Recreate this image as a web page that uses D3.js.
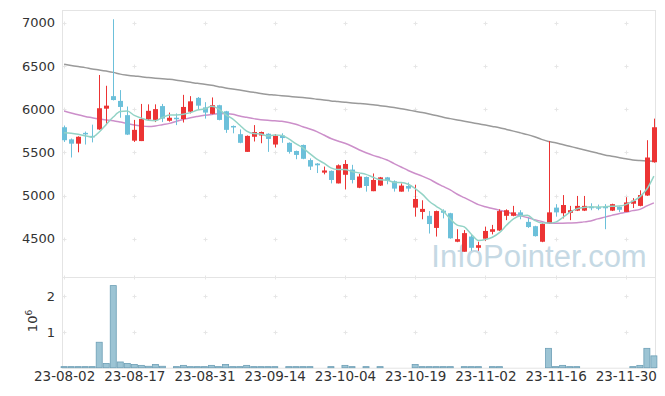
<!DOCTYPE html>
<html>
<head>
<meta charset="utf-8">
<script src="https://cdn.jsdelivr.net/npm/d3@7"></script>
<style>
  body { margin: 0; background: #fff; }
  svg { display: block; font-family: "DejaVu Sans", sans-serif; }
</style>
</head>
<body>
<div id="chart"></div>
<script>
// trading days shown on the chart
var dates = ["23-08-02","23-08-03","23-08-04","23-08-07","23-08-08","23-08-09","23-08-10","23-08-11","23-08-14","23-08-16",
  "23-08-17","23-08-18","23-08-21","23-08-22","23-08-23","23-08-24","23-08-25","23-08-28","23-08-29","23-08-30",
  "23-08-31","23-09-01","23-09-04","23-09-05","23-09-06","23-09-07","23-09-08","23-09-11","23-09-12","23-09-13",
  "23-09-14","23-09-15","23-09-18","23-09-19","23-09-20","23-09-21","23-09-22","23-09-25","23-09-26","23-09-27",
  "23-10-04","23-10-05","23-10-06","23-10-10","23-10-11","23-10-12","23-10-13","23-10-16","23-10-17","23-10-18",
  "23-10-19","23-10-20","23-10-23","23-10-24","23-10-25","23-10-26","23-10-27","23-10-30","23-10-31","23-11-01",
  "23-11-02","23-11-03","23-11-06","23-11-07","23-11-08","23-11-09","23-11-10","23-11-13","23-11-14","23-11-15",
  "23-11-16","23-11-17","23-11-20","23-11-21","23-11-22","23-11-23","23-11-24","23-11-27","23-11-28","23-11-29",
  "23-11-30","23-12-01","23-12-04","23-12-05","23-12-06"];

var open = [5790,5650,5600,5725,5690,5765,6005,6150,6095,5930,
  5635,5630,5880,5875,6035,5865,5900,5885,5970,6130,
  6020,5945,6045,5975,5805,5710,5505,5680,5695,5715,
  5590,5695,5610,5515,5585,5410,5370,5265,5285,5140,
  5240,5300,5090,5215,5050,5115,5210,5165,5045,5110,
  4860,4810,4765,4625,4825,4795,4465,4350,4525,4395,
  4500,4580,4595,4765,4765,4805,4695,4645,4465,4680,
  4860,4795,4800,4825,4825,4870,4865,4870,4825,4870,
  4810,4905,4880,5000,5385];
var high = [5810,5660,5685,5740,5820,6395,6270,7040,6220,6030,
  5875,6060,6055,6055,6060,5960,5950,6165,6150,6140,
  6080,6135,6050,5980,5810,5765,5695,5815,5740,5720,
  5710,5720,5615,5520,5590,5430,5375,5335,5290,5360,
  5410,5355,5250,5220,5255,5215,5215,5175,5140,5150,
  5125,4945,4820,4825,4840,4800,4610,4600,4550,4465,
  4640,4660,4840,4840,4880,4830,4740,4650,4680,5630,
  4900,5005,4880,4995,4995,4910,4895,4900,4905,4875,
  4980,4970,5060,5640,5890];
var low = [5620,5440,5500,5590,5615,5760,5815,6100,5900,5700,
  5620,5630,5870,5850,5850,5855,5815,5845,5950,5990,
  5890,5940,5870,5725,5720,5605,5505,5625,5605,5505,
  5555,5610,5485,5420,5420,5295,5260,5245,5140,5140,
  5070,5140,5085,5045,5050,5110,5130,5045,5045,5045,
  4755,4725,4560,4525,4735,4500,4460,4350,4360,4360,
  4475,4550,4590,4715,4760,4725,4625,4525,4460,4675,
  4755,4735,4715,4820,4820,4830,4830,4610,4820,4810,
  4810,4855,4875,4995,5380];
var close = [5640,5600,5680,5710,5675,6010,6040,6105,6025,5705,
  5760,5885,5980,6000,5890,5900,5890,6025,6090,6040,
  5960,6045,5875,5760,5790,5610,5690,5735,5735,5655,
  5690,5665,5505,5470,5425,5335,5350,5290,5180,5350,
  5365,5180,5220,5110,5180,5210,5170,5080,5115,5080,
  4960,4845,4670,4820,4800,4505,4495,4565,4395,4425,
  4590,4610,4820,4830,4805,4770,4635,4530,4670,4805,
  4805,4890,4830,4880,4880,4860,4855,4860,4900,4835,
  4920,4940,5005,5440,5790];

// volume, shares
var volume = [30000,30000,30000,30000,30000,710000,120000,2290000,160000,120000,
  90000,65000,40000,90000,40000,0,30000,65000,30000,30000,
  30000,65000,30000,90000,30000,30000,65000,30000,30000,30000,
  30000,0,30000,30000,30000,30000,0,0,30000,0,
  65000,30000,0,30000,0,30000,0,0,0,0,
  90000,30000,30000,30000,30000,30000,0,30000,30000,30000,
  0,30000,30000,0,0,0,0,0,0,540000,
  30000,65000,30000,30000,0,0,0,0,0,0,
  0,30000,65000,540000,330000];

// moving averages as drawn
var ma5 = [5727,5720,5708,5692,5675,5735,5823,5908,5971,5977,
  5927,5896,5871,5866,5903,5931,5932,5941,5959,5989,
  6001,6032,6002,5936,5886,5816,5745,5717,5712,5690,
  5701,5696,5655,5600,5551,5485,5420,5374,5320,5301,
  5300,5278,5262,5245,5211,5182,5178,5152,5150,5131,
  5081,5016,4934,4875,4819,4728,4658,4637,4552,4480,
  4490,4517,4570,4655,4731,4767,4772,4714,4682,4682,
  4692,4745,4805,4845,4860,4870,4866,4870,4875,4878,
  4895,4935,4985,5075,5225];
var ma20 = [5978,5955,5935,5915,5900,5885,5875,5866,5850,5832,
  5816,5805,5798,5805,5820,5835,5860,5880,5900,5915,
  5928,5938,5945,5950,5940,5920,5905,5890,5878,5870,
  5865,5860,5845,5825,5796,5770,5740,5700,5660,5630,
  5604,5570,5530,5495,5465,5440,5411,5370,5330,5290,
  5255,5225,5190,5145,5105,5065,5015,4975,4935,4895,
  4870,4850,4830,4810,4785,4765,4745,4720,4700,4680,
  4678,4680,4682,4685,4695,4705,4730,4750,4770,4790,
  4805,4825,4840,4880,4915];
var maLong = [6520,6505,6492,6480,6465,6453,6440,6425,6405,6393,
  6383,6375,6365,6357,6350,6345,6335,6322,6310,6298,
  6288,6275,6260,6245,6232,6220,6208,6195,6180,6170,
  6163,6155,6148,6140,6133,6125,6115,6105,6095,6088,
  6080,6072,6065,6058,6050,6040,6030,6018,6005,5990,
  5975,5960,5943,5925,5905,5890,5875,5860,5845,5830,
  5815,5800,5785,5765,5745,5725,5705,5680,5650,5625,
  5610,5590,5570,5550,5530,5510,5490,5470,5455,5440,
  5425,5412,5405,5400,5398];

var priceTicks = [4500,5000,5500,6000,6500,7000];
var volTicks = [1000000,2000000];
var xTickIdx = [0,10,20,30,40,50,60,70,80];

var W = 665, H = 396;
var left = 62, right = 656,
    pTop = 10, pBottom = 277,
    vTop = 277, vBottom = 367.7;

var svg = d3.select("#chart").append("svg")
    .attr("width", W)
    .attr("height", H);

var idx = d3.range(dates.length);

var x = d3.scaleLinear().domain([-0.3, dates.length - 0.7]).range([left, right]);
var y = d3.scaleLinear().domain([4057, 7147]).range([pBottom, pTop]);
var yv = d3.scaleLinear().domain([0, 2530000]).range([vBottom, vTop]);

var band = x(1) - x(0);

// panel frames
function frame(y0, y1) {
    svg.append("rect")
        .attr("x", left + 0.5).attr("y", y0 + 0.5)
        .attr("width", right - left - 1).attr("height", y1 - y0)
        .attr("fill", "none")
        .attr("stroke", "#e4e4e4");
}
frame(pTop, pBottom);
frame(vTop, vBottom);

// grid crosses
function crosses(vals, sy, extra) {
    var pts = [];
    xTickIdx.forEach(function(i) {
        vals.forEach(function(v) { pts.push([Math.round(x(i)) + 0.5, Math.round(sy(v)) + 0.5]); });
        if (extra != null) pts.push([Math.round(x(i)) + 0.5, extra]);
    });
    svg.append("g").selectAll("path")
        .data(pts)
        .join("path")
        .attr("d", function(d) {
            return "M" + (d[0] - 2) + "," + d[1] + "h4M" + d[0] + "," + (d[1] - 2) + "v4";
        })
        .attr("stroke", "#e6e6e6")
        .attr("stroke-width", 1);
}
crosses(priceTicks, y, pBottom + 0.5);
crosses(volTicks, yv, null);

function styleText(sel) {
    sel.attr("font-size", 13)
        .attr("font-family", "DejaVu Sans, sans-serif")
        .attr("fill", "#333");
}

// axes labels
var yAxis = d3.axisLeft(y).tickValues(priceTicks).tickSize(0).tickPadding(7)
    .tickFormat(d3.format("d"));
svg.append("g")
    .attr("transform", "translate(" + left + ",0)")
    .call(yAxis)
    .call(function(g) { g.select(".domain").remove(); })
    .selectAll("text")
    .call(styleText);

var vAxis = d3.axisLeft(yv).tickValues(volTicks).tickSize(0).tickPadding(7)
    .tickFormat(function(d) { return d / 1e6; });
svg.append("g")
    .attr("transform", "translate(" + left + ",0)")
    .call(vAxis)
    .call(function(g) { g.select(".domain").remove(); })
    .selectAll("text")
    .call(styleText);

var unit = svg.append("text")
    .attr("transform", "translate(37,321) rotate(-90)")
    .attr("text-anchor", "middle")
    .call(styleText);
unit.append("tspan").text("10");
unit.append("tspan").attr("dy", -5).attr("font-size", 9).text("6");

var xAxis = d3.axisBottom(x).tickValues(xTickIdx).tickSize(0).tickPadding(4)
    .tickFormat(function(i) { return dates[i]; });
svg.append("g")
    .attr("transform", "translate(0," + vBottom + ")")
    .call(xAxis)
    .call(function(g) { g.select(".domain").remove(); })
    .selectAll("text")
    .call(styleText)
    .attr("font-size", 13.5);

// watermark
svg.append("text")
    .attr("x", 539).attr("y", 267)
    .attr("text-anchor", "middle")
    .attr("font-family", "Liberation Sans, Arial, sans-serif")
    .attr("font-size", 31)
    .attr("fill", "#c5d9e4")
    .text("InfoPointer.com");

// moving average lines
function addLine(vals, color, width) {
    var line = d3.line()
        .x(function(i) { return x(i); })
        .y(function(i) { return y(vals[i]); })
        .curve(d3.curveMonotoneX);
    svg.append("path")
        .datum(idx)
        .attr("d", line)
        .attr("fill", "none")
        .attr("stroke", color)
        .attr("stroke-width", width);
}
addLine(maLong, "#9a9a9a", 1.5);
addLine(ma20, "#cc8fca", 1.5);

// candles
var upColor = "#ec3434", downColor = "#6cc0da";
var candles = svg.append("g").selectAll("g")
    .data(idx)
    .join("g");

candles.append("line")
    .attr("x1", function(i) { return Math.round(x(i)) + 0.5; })
    .attr("x2", function(i) { return Math.round(x(i)) + 0.5; })
    .attr("y1", function(i) { return y(high[i]); })
    .attr("y2", function(i) { return y(low[i]); })
    .attr("stroke", function(i) { return close[i] >= open[i] ? upColor : downColor; })
    .attr("stroke-width", 1);

candles.append("rect")
    .attr("x", function(i) { return Math.round(x(i)) - 2; })
    .attr("width", 5)
    .attr("y", function(i) { return y(Math.max(open[i], close[i])); })
    .attr("height", function(i) { return Math.max(1.5, Math.abs(y(open[i]) - y(close[i]))); })
    .attr("fill", function(i) { return close[i] >= open[i] ? upColor : downColor; });

addLine(ma5, "#93d3c6", 1.5);

// volume bars
svg.append("g").selectAll("rect")
    .data(idx.filter(function(i) { return volume[i] > 0; }))
    .join("rect")
    .attr("x", function(i) { return x(i) - band / 2 + 0.5; })
    .attr("width", band - 1)
    .attr("y", function(i) { return yv(volume[i]); })
    .attr("height", function(i) { return Math.max(0.5, yv(0) - yv(volume[i])); })
    .attr("fill", "#9cc4d4")
    .attr("stroke", "#6d9fb6")
    .attr("stroke-width", 0.8);
</script>
</body>
</html>
